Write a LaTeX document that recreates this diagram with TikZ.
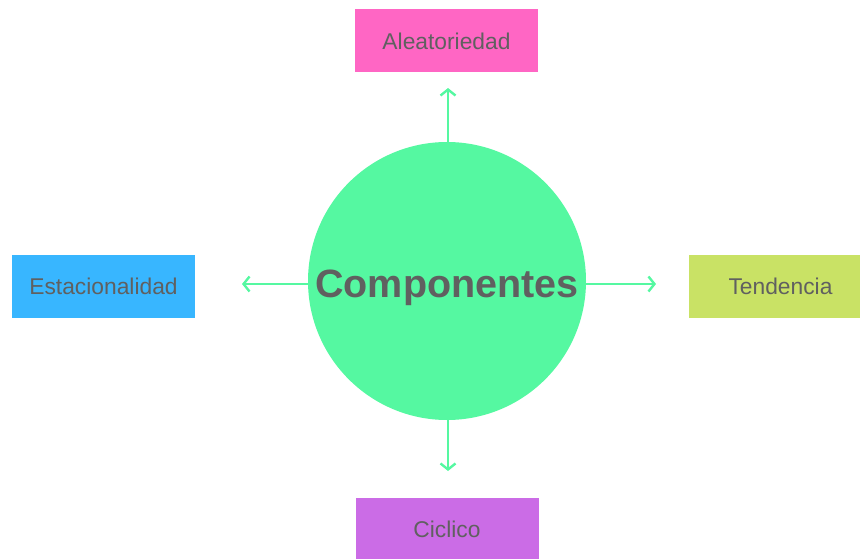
\documentclass[tikz,border=0pt]{standalone}
\usepackage{fontspec}
\setmainfont{Liberation Sans}
\usetikzlibrary{arrows.meta}
\definecolor{cpink}{HTML}{FF66C4}
\definecolor{cblue}{HTML}{38B6FF}
\definecolor{clime}{HTML}{C9E265}
\definecolor{cpurple}{HTML}{CB6CE6}
\definecolor{cgreen}{HTML}{55F8A1}
\definecolor{ctext}{HTML}{606060}
\begin{document}
\begin{tikzpicture}[x=1pt,y=-1pt,
  labelbox/.style={draw=none, inner sep=0pt, minimum width=183pt, minimum height=63pt,
    text=ctext, text depth=0pt, font=\fontsize{22.8}{26}\selectfont},
  hub/.style={circle, fill=cgreen, minimum size=278pt, inner sep=0pt,
    text=ctext, text depth=0pt, font=\fontsize{39.5}{46}\selectfont\bfseries},
  link/.style={draw=cgreen, line width=2.4pt, -{Straight Barb[length=6pt,width=15pt,line width=2.4pt]}}]
\useasboundingbox (0,0) rectangle (860,559);
\node[hub] (c) at (447,281) {\raisebox{-5pt}{Componentes}};
\node[labelbox, fill=cpink] (a) at (446.5,40.5) {\raisebox{-1pt}{Aleatoriedad}};
\node[labelbox, fill=cblue] (e) at (103.5,286) {Estacionalidad};
\node[labelbox, fill=clime] (t) at (780.5,286) {Tendencia};
\node[labelbox, fill=cpurple] (k) at (447,529.5) {Ciclico};
\coordinate (ta) at (448,88);
\coordinate (te) at (242,284);
\coordinate (tt) at (656,284);
\coordinate (tk) at (448,471);
\draw[link] (c.north -| ta) -- (ta);
\draw[link] (c.west |- te) -- (te);
\draw[link] (c.east |- tt) -- (tt);
\draw[link] (c.south -| tk) -- (tk);
\end{tikzpicture}
\end{document}
